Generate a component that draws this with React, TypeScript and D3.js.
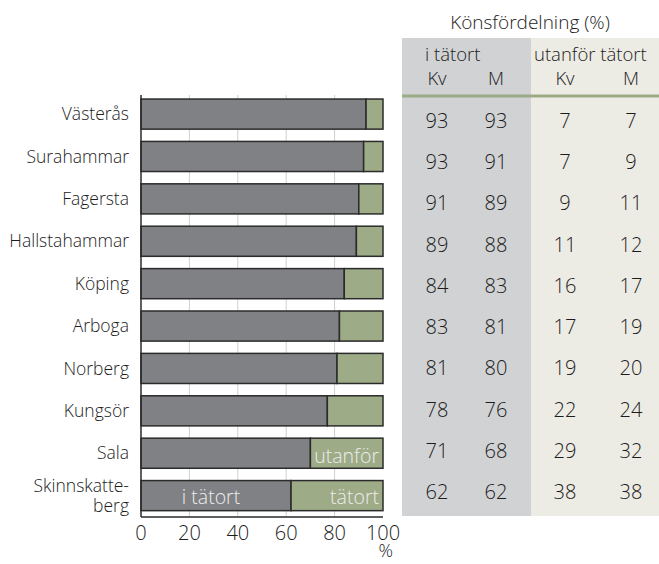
import React, { useEffect, useRef } from "react";
import * as d3 from "d3";

// kommuner, andel som bor i tätort (%)
const cities = [
  "Västerås",
  "Surahammar",
  "Fagersta",
  "Hallstahammar",
  "Köping",
  "Arboga",
  "Norberg",
  "Kungsör",
  "Sala",
  "Skinnskatteberg",
];
const inTatort = [93, 92, 90, 89, 84, 82, 81, 77, 70, 62];

// könsfördelning (%)
const tatortKv = [93, 93, 91, 89, 84, 83, 81, 78, 71, 62];
const tatortM = [93, 91, 89, 88, 83, 81, 80, 76, 68, 62];
const utanforKv = [7, 7, 9, 11, 16, 17, 19, 22, 29, 38];
const utanforM = [7, 9, 11, 12, 17, 19, 20, 24, 32, 38];

const xTicks = [0, 20, 40, 60, 80, 100];

const W = 659;
const H = 564;
const FONT = "'Open Sans', 'DejaVu Sans', sans-serif";
const TEXT = "#1c1c1c";

export default function App() {
  const ref = useRef<SVGSVGElement | null>(null);

  useEffect(() => {
    if (!ref.current) return;
    const svg = d3.select(ref.current);
    svg.selectAll("*").remove();

    const x = d3.scaleLinear().domain([0, 100]).range([141, 383]);
    const y = d3
      .scaleBand()
      .domain(cities)
      .range([94.8, 514.9])
      .paddingInner(0.29)
      .paddingOuter(0.1);
    const axisY = 517;
    const top = 95;

    // tabellens bakgrund
    svg.append("rect").attr("x", 402).attr("y", 38).attr("width", 129).attr("height", 478).attr("fill", "#d1d2d4");
    svg.append("rect").attr("x", 531).attr("y", 38).attr("width", W - 531).attr("height", 478).attr("fill", "#ecebe4");
    svg.append("rect").attr("x", 402).attr("y", 94.5).attr("width", W - 402).attr("height", 3).attr("fill", "#9bab86");

    // rutnät
    svg
      .append("g")
      .selectAll("line")
      .data(xTicks.slice(1, -1))
      .enter()
      .append("line")
      .attr("x1", (d) => x(d))
      .attr("x2", (d) => x(d))
      .attr("y1", top)
      .attr("y2", axisY)
      .attr("stroke", "#cfcfcf")
      .attr("stroke-width", 1);

    const rows = cities.map((c, i) => ({ city: c, v: inTatort[i] }));

    const bars = svg.append("g");
    bars
      .selectAll(".in")
      .data(rows)
      .enter()
      .append("rect")
      .attr("x", x(0))
      .attr("y", (d) => y(d.city)!)
      .attr("width", (d) => x(d.v) - x(0))
      .attr("height", y.bandwidth())
      .attr("fill", "#808184")
      .attr("stroke", "#2b2b2b")
      .attr("stroke-width", 1.5);
    bars
      .selectAll(".out")
      .data(rows)
      .enter()
      .append("rect")
      .attr("x", (d) => x(d.v))
      .attr("y", (d) => y(d.city)!)
      .attr("width", (d) => x(100) - x(d.v))
      .attr("height", y.bandwidth())
      .attr("fill", "#9dab87")
      .attr("stroke", "#2b2b2b")
      .attr("stroke-width", 1.5);

    // axlar
    svg.append("line").attr("x1", x(0)).attr("x2", x(0)).attr("y1", top).attr("y2", axisY).attr("stroke", "#2b2b2b").attr("stroke-width", 1.5);
    svg.append("line").attr("x1", x(0)).attr("x2", x(100)).attr("y1", axisY).attr("y2", axisY).attr("stroke", "#2b2b2b").attr("stroke-width", 1.5);

    svg
      .append("g")
      .selectAll("text")
      .data(xTicks)
      .enter()
      .append("text")
      .attr("x", (d) => x(d))
      .attr("y", 533)
      .attr("dy", "0.35em")
      .attr("text-anchor", "middle")
      .style("font-size", "20px")
      .text((d) => d);
    svg.append("text").attr("x", 393).attr("y", 551).attr("dy", "0.35em").attr("text-anchor", "end").style("font-size", "18px").text("%");

    // kommunnamn
    const labels = svg.append("g").attr("text-anchor", "end").style("font-size", "17.5px");
    rows.forEach((d) => {
      const cy = y(d.city)! + y.bandwidth() / 2;
      if (d.city === "Skinnskatteberg") {
        labels.append("text").attr("x", 129).attr("y", cy - 10).attr("dy", "0.35em").text("Skinnskatte-");
        labels.append("text").attr("x", 129).attr("y", cy + 10).attr("dy", "0.35em").text("berg");
      } else {
        labels.append("text").attr("x", 129).attr("y", cy).attr("dy", "0.35em").text(d.city);
      }
    });

    // etiketter i staplarna
    const last = cities[cities.length - 1];
    const sala = cities[cities.length - 2];
    const inside = svg.append("g").style("font-size", "19.5px").attr("fill", "#ececec");
    inside
      .append("text")
      .attr("x", (x(0) + x(inTatort[inTatort.length - 1])) / 2 - 5)
      .attr("y", y(last)! + y.bandwidth() / 2 + 2)
      .attr("dy", "0.35em")
      .attr("text-anchor", "middle")
      .text("i tätort");
    inside
      .append("text")
      .attr("x", x(100) - 4)
      .attr("y", y(sala)! + y.bandwidth() / 2 + 3)
      .attr("dy", "0.35em")
      .attr("text-anchor", "end")
      .text("utanför");
    inside
      .append("text")
      .attr("x", x(100) - 4)
      .attr("y", y(last)! + y.bandwidth() / 2 + 2)
      .attr("dy", "0.35em")
      .attr("text-anchor", "end")
      .text("tätort");

    // tabell
    svg.append("text").attr("x", 530).attr("y", 22).attr("dy", "0.35em").attr("text-anchor", "middle").style("font-size", "19px").text("Könsfördelning (%)");
    const head = svg.append("g").style("font-size", "18.5px");
    head.append("text").attr("x", 425).attr("y", 55).attr("dy", "0.35em").text("i tätort");
    head.append("text").attr("x", 534).attr("y", 55).attr("dy", "0.35em").text("utanför tätort");
    const colX = [437, 496, 565, 631];
    ["Kv", "M", "Kv", "M"].forEach((t, i) => {
      head.append("text").attr("x", colX[i]).attr("y", 79).attr("dy", "0.35em").attr("text-anchor", "middle").text(t);
    });

    const ty = d3.scalePoint().domain(cities).range([121, 492]);
    const cols = [tatortKv, tatortM, utanforKv, utanforM];
    const tbl = svg.append("g").style("font-size", "20px").attr("text-anchor", "middle");
    cols.forEach((col, ci) => {
      tbl
        .append("g")
        .selectAll("text")
        .data(col)
        .enter()
        .append("text")
        .attr("x", colX[ci])
        .attr("y", (d, i) => ty(cities[i])!)
        .attr("dy", "0.35em")
        .text((d) => d);
    });
  }, []);

  return (
    <svg
      ref={ref}
      width={W}
      height={H}
      style={{ position: "absolute", left: 0, top: 0, background: "#fff", fontFamily: FONT, fontWeight: 300, fill: TEXT }}
    />
  );
}
